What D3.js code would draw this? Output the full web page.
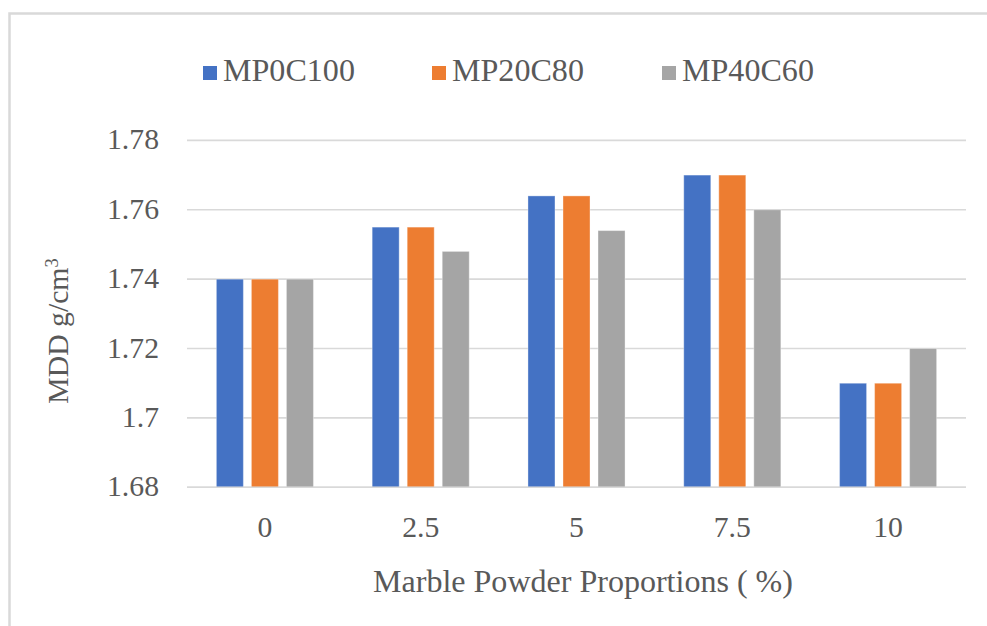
<!DOCTYPE html>
<html>
<head>
<meta charset="utf-8">
<script src="https://cdn.jsdelivr.net/npm/d3@7"></script>
<style>
  html, body { margin: 0; padding: 0; background: #fff; }
  svg { display: block; }
</style>
</head>
<body>
<svg id="chart" width="987" height="626"></svg>
<script>
// Marble powder proportions (%) on the x axis
const categories = ["0", "2.5", "5", "7.5", "10"];
const seriesNames = ["MP0C100", "MP20C80", "MP40C60"];
// Maximum dry density (g/cm³) per mix
const mp0c100 = [1.74, 1.755, 1.764, 1.77, 1.71];
const mp20c80 = [1.74, 1.755, 1.764, 1.77, 1.71];
const mp40c60 = [1.74, 1.748, 1.754, 1.76, 1.72];
const yTicks = [1.68, 1.70, 1.72, 1.74, 1.76, 1.78];
const colors = ["#4472C4", "#ED7D31", "#A5A5A5"];

const seriesValues = [mp0c100, mp20c80, mp40c60];
const FONT = "'Times New Roman', 'Liberation Serif', 'DejaVu Serif', 'Noto Serif', serif";

const svg = d3.select("#chart")
  .attr("font-family", FONT)
  .style("font-family", FONT);

// chart frame
svg.append("rect")
  .attr("x", 9.5).attr("y", 13.5)
  .attr("width", 1000).attr("height", 700)
  .attr("fill", "none")
  .attr("stroke", "#d9d9d9")
  .attr("stroke-width", 2.5);

const plot = { left: 187, right: 966, top: 140.4, bottom: 487.3 };

const x0 = d3.scaleBand()
  .domain(categories)
  .range([plot.left, plot.right])
  .paddingInner(0.377)
  .paddingOuter(0.1885);

const x1 = d3.scaleBand()
  .domain(seriesNames)
  .range([0, x0.bandwidth()])
  .paddingInner(0.229);

const y = d3.scaleLinear()
  .domain([1.68, 1.78])
  .range([plot.bottom, plot.top]);

// fit a text element to a given width by adjusting its font size
function fitWidth(sel, width) {
  sel.each(function () {
    const fs = parseFloat(this.getAttribute("font-size"));
    const w = this.getComputedTextLength();
    if (w > 0) this.setAttribute("font-size", (fs * width / w).toFixed(2));
  });
}

function label(sel) {
  return sel.attr("fill", "#595959").style("font-family", FONT);
}

// horizontal gridlines
svg.append("g")
  .selectAll("line")
  .data(yTicks)
  .join("line")
  .attr("x1", plot.left).attr("x2", plot.right)
  .attr("y1", d => y(d)).attr("y2", d => y(d))
  .attr("stroke", "#d9d9d9")
  .attr("stroke-width", 1.6);

// y tick labels
const yLabels = svg.append("g")
  .selectAll("text")
  .data(yTicks)
  .join("text")
  .call(label)
  .attr("x", 159)
  .attr("y", d => y(d) + 9)
  .attr("text-anchor", "end")
  .attr("font-size", 24)
  .text(d => d3.format("")(+d.toFixed(2)));
fitWidth(yLabels.filter(d => d === 1.78), 52);
const tickSize = +yLabels.filter(d => d === 1.78).attr("font-size");
yLabels.attr("font-size", tickSize);

// bars
const groups = svg.append("g")
  .selectAll("g")
  .data(categories)
  .join("g")
  .attr("transform", c => `translate(${x0(c)},0)`);

groups.selectAll("rect")
  .data((c, i) => seriesNames.map((s, j) => ({ s, j, v: seriesValues[j][i] })))
  .join("rect")
  .attr("x", d => x1(d.s))
  .attr("width", x1.bandwidth())
  .attr("y", d => y(d.v))
  .attr("height", d => y(1.68) - y(d.v))
  .attr("fill", d => colors[d.j])
  .attr("stroke", "#ffffff")
  .attr("stroke-opacity", 0.35)
  .attr("stroke-width", 1);

// redraw the baseline above the bars
svg.append("line")
  .attr("x1", plot.left).attr("x2", plot.right)
  .attr("y1", y(1.68)).attr("y2", y(1.68))
  .attr("stroke", "#d9d9d9")
  .attr("stroke-width", 1.6);

// x tick labels
svg.append("g")
  .selectAll("text")
  .data(categories)
  .join("text")
  .call(label)
  .attr("x", c => x0(c) + x0.bandwidth() / 2)
  .attr("y", 537)
  .attr("text-anchor", "middle")
  .attr("font-size", tickSize)
  .text(c => c);

// axis titles
const xTitle = svg.append("text")
  .call(label)
  .attr("x", 583)
  .attr("y", 592)
  .attr("text-anchor", "middle")
  .attr("font-size", 24)
  .text("Marble Powder Proportions ( %)");
fitWidth(xTitle, 420);

const yTitle = svg.append("text")
  .call(label)
  .attr("transform", "translate(68,331) rotate(-90)")
  .attr("text-anchor", "middle")
  .attr("font-size", tickSize);
yTitle.append("tspan").text("MDD g/cm");
yTitle.append("tspan").attr("font-size", tickSize * 0.62).attr("dy", -10).text("3");

// legend
const legendX = [203, 432, 662];
const legend = svg.append("g")
  .selectAll("g")
  .data(seriesNames)
  .join("g")
  .attr("transform", (s, i) => `translate(${legendX[i]},0)`);

legend.append("rect")
  .attr("x", 0).attr("y", 66)
  .attr("width", 14).attr("height", 14)
  .attr("fill", (s, i) => colors[i]);

const legendText = legend.append("text")
  .call(label)
  .attr("x", 20)
  .attr("y", 81)
  .attr("font-size", 24)
  .text(s => s);
fitWidth(legendText.filter((s, i) => i === 0), 132);
legendText.attr("font-size", legendText.filter((s, i) => i === 0).attr("font-size"));
</script>
</body>
</html>
